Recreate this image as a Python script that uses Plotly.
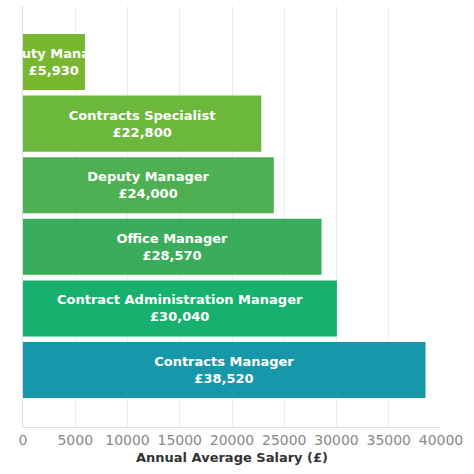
import plotly.graph_objects as go

# roles listed top to bottom
roles = ['Deputy Manager', 'Contracts Specialist', 'Deputy Manager', 'Office Manager',
         'Contract Administration Manager', 'Contracts Manager']
salaries = [5930, 22800, 24000, 28570, 30040, 38520]
bar_colors = ['#79b731', '#6cb83d', '#4eb052', '#3bab5c', '#17b06f', '#1697aa']
xticks = [0, 5000, 10000, 15000, 20000, 25000, 30000, 35000, 40000]

labels = ['<b>{}</b><br><b>£{:,}</b>'.format(r, s) for r, s in zip(roles, salaries)]
pos = list(range(len(roles)))

fig = go.Figure(go.Bar(
    x=salaries,
    y=pos,
    orientation='h',
    text=labels,
    textposition='inside',
    insidetextanchor='middle',
    textangle=0,
    textfont=dict(family='DejaVu Sans', size=13, color='white'),
    marker=dict(color=bar_colors, line=dict(width=0)),
    hoverinfo='skip',
))

fig.update_layout(
    width=474, height=474,
    margin=dict(l=23, r=33, t=6, b=47, autoexpand=False),
    paper_bgcolor='white',
    plot_bgcolor='white',
    bargap=0.09,
    showlegend=False,
    uniformtext=dict(minsize=13, mode='show'),
    font=dict(family='DejaVu Sans', size=13, color='#444'),
    xaxis=dict(
        range=[0, 40000],
        tickvals=xticks,
        ticktext=[str(t) for t in xticks],
        tickfont=dict(color='#888', size=14),
        showgrid=True, gridcolor='#eeeeee',
        showline=True, linecolor='#dddddd',
        zeroline=False,
        automargin=False,
        title=dict(text='<b>Annual Average Salary (£)</b>',
                   font=dict(size=13, color='#333'), standoff=6),
    ),
    yaxis=dict(
        range=[5.925, -0.91],
        showticklabels=False,
        showgrid=False,
        zeroline=False,
        automargin=False,
        showline=True, linecolor='#dddddd',
    ),
)

# page body has an 8px default margin; drop it so the figure sits at the window corner
fig.write_html('out.html', config={'displayModeBar': False},
               post_script="document.body.style.margin='0px';")
